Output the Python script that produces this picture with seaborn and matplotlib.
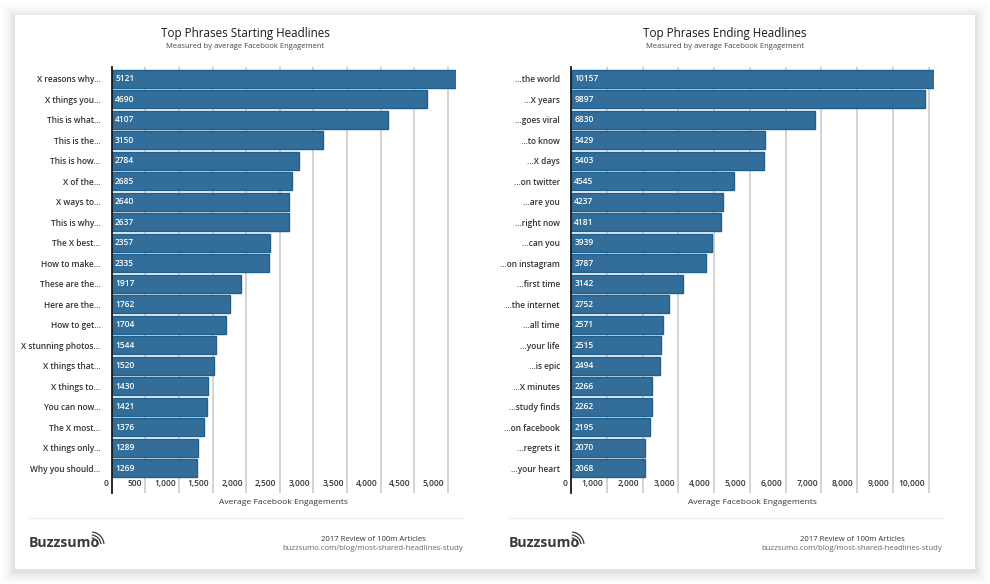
import matplotlib
matplotlib.use("Agg")
import matplotlib.pyplot as plt
import seaborn as sns
from matplotlib.patches import Rectangle, Arc
from matplotlib.lines import Line2D

start_phrases = ["X reasons why...", "X things you...", "This is what...", "This is the...", "This is how...",
                 "X of the...", "X ways to...", "This is why...", "The X best...", "How to make...",
                 "These are the...", "Here are the...", "How to get...", "X stunning photos...", "X things that...",
                 "X things to...", "You can now...", "The X most...", "X things only...", "Why you should..."]
start_values = [5121, 4690, 4107, 3150, 2784, 2685, 2640, 2637, 2357, 2335,
                1917, 1762, 1704, 1544, 1520, 1430, 1421, 1376, 1289, 1269]
end_phrases = ["...the world", "...X years", "...goes viral", "...to know", "...X days",
               "...on twitter", "...are you", "...right now", "...can you", "...on instagram",
               "...first time", "...the internet", "...all time", "...your life", "...is epic",
               "...X minutes", "...study finds", "...on facebook", "...regrets it", "...your heart"]
end_values = [10157, 9897, 6830, 5429, 5403, 4545, 4237, 4181, 3939, 3787,
              3142, 2752, 2571, 2515, 2494, 2266, 2262, 2195, 2070, 2068]
start_ticks = [0, 500, 1000, 1500, 2000, 2500, 3000, 3500, 4000, 4500, 5000]
end_ticks = [0, 1000, 2000, 3000, 4000, 5000, 6000, 7000, 8000, 9000, 10000]

W, H = 990, 584
sns.set_theme(style="white")
plt.rcParams["font.family"] = ["Open Sans", "DejaVu Sans"]
fig = plt.figure(figsize=(W / 100, H / 100), dpi=100, facecolor="white")


def fx(px):
    return px / W


def fy(py):
    return 1 - py / H


# soft shadow, then the white card
for grow, alpha in [(14, .006), (12, .009), (10, .012), (8, .016), (6, .02), (4, .025), (2, .03)]:
    fig.add_artist(Rectangle((fx(15 - grow), fy(569 + grow + 2)), (960 + 2 * grow) / W, (554 + 2 * grow) / H,
                             transform=fig.transFigure, fc="black", ec="none", alpha=alpha, zorder=-10))
fig.add_artist(Rectangle((fx(15), fy(569)), 960 / W, 554 / H, transform=fig.transFigure, fc="white", ec="none",
                         zorder=-9))

BAR = "#336d99"
EDGE = "#20608f"
LOGO = "#3a3a3a"


def panel(phrases, values, ticks, x0, x1, title, title_c, xlabel_c, rule0, rule1, foot_c, logo_x):
    ax = fig.add_axes([fx(x0), fy(492.7), (x1 - x0) / W, (492.7 - 67.3) / H], facecolor="none")
    sns.barplot(x=values, y=phrases, orient="h", color=BAR, saturation=1, width=0.88,
                edgecolor=EDGE, linewidth=1, ax=ax)
    ax.set_xlim(0, max(values))
    ax.set_ylim(20.2, -0.57)
    ax.set_xlabel("")
    ax.set_ylabel("")
    for s in ("top", "right", "bottom"):
        ax.spines[s].set_visible(False)
    ax.spines["left"].set_color("#1a1a1a")
    ax.spines["left"].set_linewidth(1.3)
    ax.set_axisbelow(True)
    ax.set_xticks(ticks)
    ax.grid(axis="x", color="#cccccc", lw=1.2)
    ax.grid(axis="y", visible=False)
    ax.tick_params(axis="y", length=0, pad=8, labelsize=6, labelcolor="#333333")
    for lab in ax.get_yticklabels():
        lab.set_fontweight(600)
    ax.set_xticklabels([])
    ax.tick_params(axis="x", length=0)
    for t in ticks:
        ax.annotate(f"{t:,}", (t, 20.2), xytext=(-2.4, 3.6), textcoords="offset points", ha="right", va="bottom",
                    fontsize=6, fontweight=600, color="#333333", annotation_clip=False)
    for i, v in enumerate(values):
        ax.annotate(str(v), (0, i), xytext=(2.4, 0), textcoords="offset points", ha="left", va="center",
                    fontsize=6, fontweight=600, color="white")
    fig.text(fx(title_c), fy(33), title, ha="center", va="center", fontsize=8.4, color="#1a1a1a")
    fig.text(fx(title_c + 0.5), fy(46.5), "Measured by average Facebook Engagement", ha="center", va="center",
             fontsize=5.5, color="#444444")
    fig.text(fx(xlabel_c), fy(502.5), "Average Facebook Engagements", ha="center", va="center",
             fontsize=6.1, color="#333333")
    fig.add_artist(Line2D([fx(rule0), fx(rule1)], [fy(518), fy(518)], color="#eeeeee", lw=1))
    fig.text(fx(foot_c), fy(539.5), "2017 Review of 100m Articles", ha="center", va="center",
             fontsize=5.6, color="#333333")
    fig.text(fx(foot_c), fy(549), "buzzsumo.com/blog/most-shared-headlines-study", ha="center", va="center",
             fontsize=5.6, color="#666666")
    # wordmark with its signal glyph
    fig.text(fx(logo_x), fy(543), "Buzzsumo", ha="left", va="center", fontsize=10.2, fontweight="bold", color=LOGO)
    cx, cy = logo_x + 62, 545
    for d in (14, 20, 26):
        fig.add_artist(Arc((cx, H - cy), d, d, theta1=5, theta2=85, transform=None, ec=LOGO, lw=0.9))


panel(start_phrases, start_values, start_ticks, 111.7, 456, "Top Phrases Starting Headlines", 245, 283, 29, 464, 373, 29)
panel(end_phrases, end_values, end_ticks, 571, 934.3, "Top Phrases Ending Headlines", 725, 752, 509, 943, 852, 509)

fig.savefig("out.png", dpi=100, facecolor="white")
